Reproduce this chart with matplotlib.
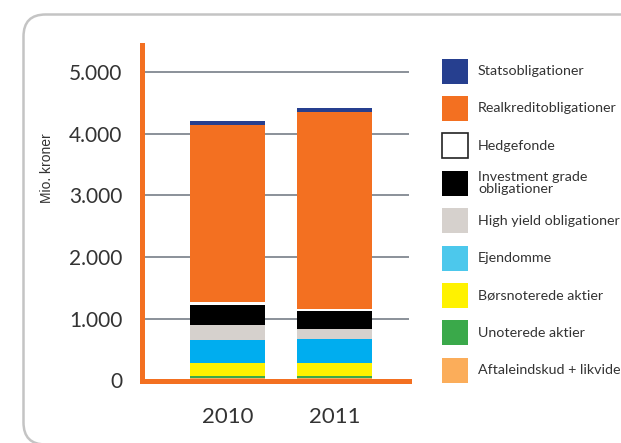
import matplotlib
matplotlib.use("Agg")
import matplotlib.pyplot as plt
from matplotlib.patches import FancyBboxPatch, Rectangle
import numpy as np

years = ["2010", "2011"]
categories = ["Statsobligationer", "Realkreditobligationer", "Hedgefonde",
              "Investment grade\nobligationer", "High yield obligationer",
              "Ejendomme", "Børsnoterede aktier", "Unoterede aktier",
              "Aftaleindskud + likvide"]
colors = ["#263f8f", "#f37021", "#ffffff", "#000000", "#d6d1cd",
          "#00adef", "#fff200", "#3aa94a", "#fbad5a"]
legend_colors = ["#263f8f", "#f37021", "#ffffff", "#000000", "#d6d1cd",
                 "#4cc8ec", "#fff200", "#3aa94a", "#fbad5a"]
# values in mio. kroner (bottom-up order is reverse of categories)
statsobligationer = [65, 65]
realkredit = [2873, 3193]
hedgefonde = [44, 38]
investment_grade = [330, 292]
high_yield = [239, 162]
ejendomme = [378, 390]
boersnoterede = [211, 211]
unoterede = [30, 30]
aftaleindskud = [40, 40]
series = [statsobligationer, realkredit, hedgefonde, investment_grade,
          high_yield, ejendomme, boersnoterede, unoterede, aftaleindskud]
yticks = [0, 1000, 2000, 3000, 4000, 5000]
yticklabels = ["0", "1.000", "2.000", "3.000", "4.000", "5.000"]

W, H = 621, 443
fig = plt.figure(figsize=(W / 100, H / 100), dpi=100)

# background frame
bg = fig.add_axes([0, 0, 1, 1], zorder=0)
bg.set_xlim(0, W)
bg.set_ylim(H, 0)
bg.axis("off")
bg.add_patch(FancyBboxPatch((23.5, 14.5), 800, 430,
                            boxstyle="round,pad=0,rounding_size=22",
                            fc="white", ec="#c4c4c4", lw=1.8))

L, R, B, T = 142, 409, 380.5, 45
ax = fig.add_axes([L / W, (H - B) / H, (R - L) / W, (B - T) / H], zorder=1)
ax.patch.set_alpha(0)
x = np.arange(len(years))
bottom = np.zeros(len(years))
for vals, c in zip(series[::-1], colors[::-1]):
    ax.bar(x, vals, width=0.70, bottom=bottom, color=c, linewidth=0, zorder=3)
    bottom += np.array(vals)

ax.set_xlim(-0.799, 1.696)
ax.set_ylim(0, 5437)
ax.set_yticks(yticks)
ax.set_yticklabels(yticklabels)
ax.set_xticks(x)
ax.set_xticklabels(years)
for t in yticks[1:]:
    ax.axhline(t, color="#8a9199", lw=1.4, zorder=1)
for s in ["top", "right"]:
    ax.spines[s].set_visible(False)
for s in ["left", "bottom"]:
    ax.spines[s].set_color("#f37021")
    ax.spines[s].set_linewidth(3.6)
    ax.spines[s].set_zorder(5)
ax.tick_params(axis="y", length=0, pad=14, labelsize=15, labelcolor="#333333")
ax.tick_params(axis="x", length=0, pad=19, labelsize=16, labelcolor="#333333")
for lab in ax.get_yticklabels() + ax.get_xticklabels():
    lab.set_family("Lato")

fig.text(47 / W, 1 - 168 / H, "Mio. kroner", rotation=90, ha="center",
         va="center", fontsize=10, family="Liberation Sans", color="#333333")

# legend
for i, (name, c) in enumerate(zip(categories, legend_colors)):
    yc = 71 + i * 37.4
    bg.add_patch(Rectangle((442, yc - 12.5), 26, 25, fc=c,
                           ec="#222222" if c == "#ffffff" else c,
                           lw=1.2 if c == "#ffffff" else 0))
    bg.text(478, yc, name, va="center", ha="left", fontsize=10.3,
            family="Lato", color="#333333", linespacing=0.95)

fig.savefig("out.png", dpi=100)
